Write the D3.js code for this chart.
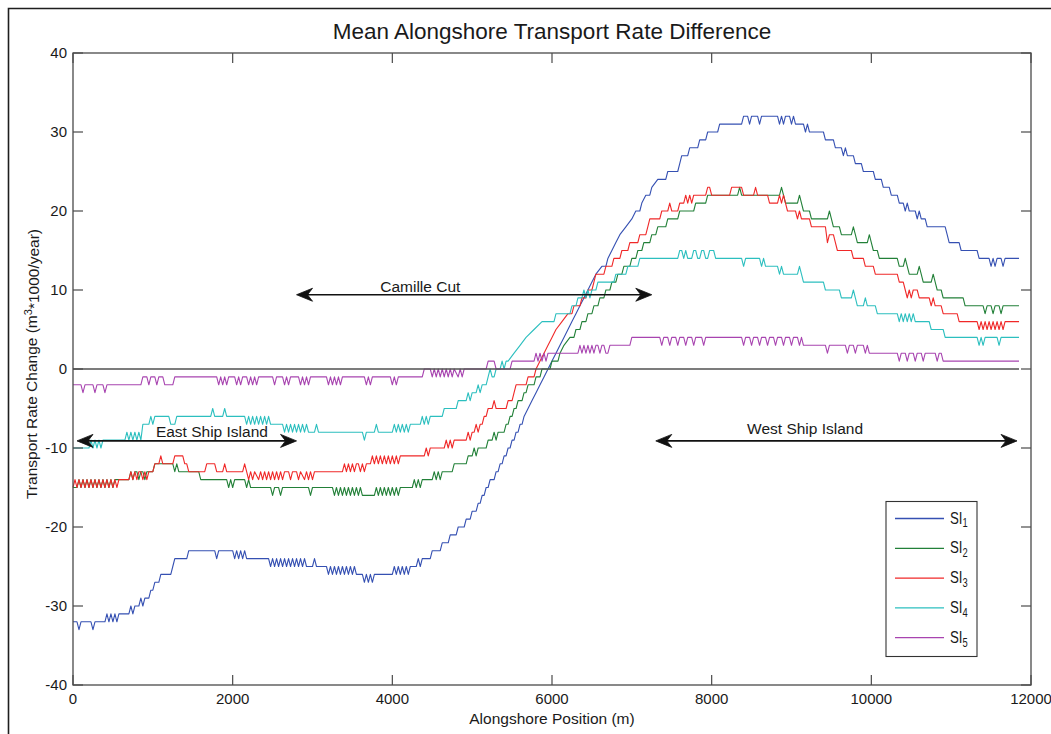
<!DOCTYPE html>
<html>
<head>
<meta charset="utf-8">
<script src="https://cdn.jsdelivr.net/npm/d3@7"></script>
<style>
  body { margin: 0; background: #fff; }
  svg { display: block; }
  text { font-family: Arial, "Liberation Sans", Helvetica, sans-serif; fill: #1a1a1a; }
</style>
</head>
<body>
<svg id="chart" width="1051" height="734"></svg>
<script>
// Axis ticks
const xTicks = [0, 2000, 4000, 6000, 8000, 10000, 12000];
const yTicks = [-40, -30, -20, -10, 0, 10, 20, 30, 40];

// Mean alongshore transport rate difference, [position (m), rate (m^3*1000/year)]
const si1 = [[0,-32],[50,-32],[75,-33],[100,-32],[225,-32],[250,-33],[275,-32],[400,-32],
  [425,-31],[450,-32],[475,-31],[500,-32],[525,-31],[550,-32],[575,-31],[700,-31],[725,-30],[750,-31],[775,-30],[825,-30],
  [850,-29],[875,-30],[900,-29],[950,-29],[975,-28],[1000,-28],[1025,-27],[1075,-27],[1100,-26],[1225,-26],[1250,-25],
  [1275,-24],[1425,-24],[1450,-23],[1775,-23],[1800,-24],[1825,-23],[2000,-23],[2025,-24],[2050,-23],[2075,-24],[2100,-23],
  [2125,-24],[2150,-23],[2175,-24],[2450,-24],[2475,-25],[2500,-24],[2525,-25],[2550,-24],[2575,-25],[2600,-24],[2625,-25],
  [2650,-24],[2675,-25],[2700,-24],[2725,-25],[2750,-24],[2775,-25],[2800,-24],[2825,-25],[2850,-24],[2875,-25],[2900,-24],
  [2925,-25],[3000,-25],[3025,-24],[3050,-25],[3175,-25],[3200,-26],[3225,-25],[3250,-26],[3275,-25],[3300,-26],[3325,-25],
  [3350,-26],[3375,-25],[3400,-26],[3425,-25],[3450,-26],[3475,-25],[3500,-26],[3525,-25],[3550,-26],[3625,-26],[3650,-27],
  [3675,-26],[3700,-27],[3725,-26],[3750,-27],[3775,-26],[4000,-26],[4025,-25],[4050,-26],[4075,-25],[4100,-26],[4125,-25],
  [4150,-26],[4175,-25],[4200,-26],[4225,-25],[4300,-25],[4325,-24],[4350,-25],[4375,-24],[4475,-24],[4500,-23],[4600,-23],
  [4625,-22],[4700,-22],[4725,-21],[4800,-21],[4825,-20],[4900,-20],[4925,-19],[4975,-19],[5000,-18],[5050,-18],[5075,-17],
  [5100,-17],[5125,-16],[5150,-16],[5175,-15],[5200,-15],[5225,-14],[5275,-14],[5300,-13],[5325,-13],[5350,-12],[5375,-12],
  [5400,-11],[5425,-11],[5450,-10],[5475,-10],[5500,-9],[5525,-9],[5550,-8],[5575,-8],[5600,-7],[5625,-7],[5650,-6],
  [5700,-5],[5750,-4],[5800,-3],[5850,-2],[5900,-1],[5950,0],[6000,1],[6050,2],[6100,3],[6150,4],[6200,5],[6250,6],
  [6300,7],[6350,8],[6400,9],[6450,10],[6500,11],[6550,12],[6625,13],[6675,13],[6700,14],[6750,15],[6800,16],[6850,17],
  [6925,18],[7000,19],[7050,20],[7100,20],[7125,21],[7175,22],[7225,22],[7250,23],[7325,24],[7425,24],[7450,25],[7575,25],
  [7600,26],[7625,27],[7700,27],[7725,28],[7825,28],[7850,29],[7925,29],[7950,30],[8075,30],[8100,31],[8375,31],[8400,32],
  [8450,32],[8475,31],[8500,32],[8575,32],[8600,31],[8625,32],[8825,32],[8850,31],[8875,32],[8900,31],[8925,32],[8975,32],
  [9000,31],[9025,32],[9050,31],[9150,31],[9175,30],[9200,31],[9225,30],[9400,30],[9425,29],[9525,29],[9550,28],[9625,28],
  [9650,27],[9675,28],[9700,27],[9775,27],[9800,26],[9875,26],[9900,25],[10025,25],[10050,24],[10125,24],[10150,23],
  [10225,23],[10250,22],[10325,22],[10350,21],[10400,21],[10425,20],[10450,21],[10475,20],[10550,20],[10575,19],[10600,20],
  [10625,19],[10675,19],[10700,18],[10925,18],[10950,17],[10975,16],[11100,16],[11125,15],[11325,15],[11350,14],[11475,14],
  [11500,13],[11525,14],[11550,13],[11575,14],[11625,14],[11650,13],[11675,14],[11850,14]];

const si2 = [[0,-15],[50,-15],[75,-14],[100,-15],[125,-14],[150,-15],[175,-14],[200,-15],[225,-14],[250,-15],[275,-14],
  [300,-15],[325,-14],[350,-15],[375,-14],[400,-15],[425,-14],[450,-15],[475,-14],[500,-15],[525,-14],[700,-14],[725,-13],
  [750,-14],[775,-13],[800,-13],[825,-14],[850,-13],[875,-13],[900,-14],[925,-13],[1000,-13],[1025,-12],[1250,-12],
  [1275,-13],[1300,-12],[1325,-13],[1575,-13],[1600,-14],[1925,-14],[1950,-15],[1975,-14],[2000,-15],[2025,-14],[2150,-14],
  [2175,-15],[2200,-14],[2225,-15],[2475,-15],[2500,-16],[2525,-15],[2575,-15],[2600,-16],[2625,-15],[2950,-15],[2975,-16],
  [3000,-15],[3250,-15],[3275,-16],[3300,-15],[3325,-16],[3350,-15],[3375,-16],[3400,-15],[3425,-16],[3450,-15],[3475,-16],
  [3500,-15],[3525,-16],[3550,-15],[3575,-16],[3600,-15],[3625,-16],[3775,-16],[3800,-15],[3825,-16],[3850,-15],[3875,-16],
  [3900,-15],[3925,-16],[3950,-15],[3975,-16],[4000,-15],[4025,-16],[4050,-15],[4075,-16],[4100,-15],[4250,-15],[4275,-14],
  [4300,-15],[4325,-14],[4350,-15],[4375,-14],[4500,-14],[4525,-13],[4550,-14],[4575,-13],[4600,-14],[4625,-13],[4750,-13],
  [4775,-12],[4925,-12],[4950,-11],[5000,-11],[5025,-10],[5050,-11],[5075,-10],[5175,-10],[5200,-9],[5250,-9],[5275,-8],
  [5300,-9],[5325,-8],[5400,-8],[5425,-7],[5450,-7],[5475,-6],[5500,-6],[5525,-5],[5550,-5],[5575,-4],[5625,-4],[5650,-3],
  [5675,-3],[5700,-2],[5775,-2],[5800,-1],[5850,-1],[5875,0],[5975,0],[6000,1],[6075,1],[6100,2],[6150,3],[6225,4],
  [6275,4],[6300,5],[6350,5],[6375,6],[6425,6],[6450,7],[6500,7],[6525,8],[6575,8],[6600,9],[6650,9],[6675,10],[6725,10],
  [6750,11],[6800,11],[6825,12],[6875,12],[6900,13],[6975,13],[7000,14],[7050,14],[7075,15],[7125,15],[7150,16],[7225,16],
  [7250,17],[7300,17],[7325,18],[7425,18],[7450,19],[7575,19],[7600,20],[7775,20],[7800,21],[7925,21],[7950,22],[8325,22],
  [8350,23],[8375,22],[8850,22],[8875,23],[8900,22],[8925,21],[9075,21],[9100,22],[9125,21],[9150,20],[9225,20],[9250,19],
  [9450,19],[9475,20],[9500,19],[9525,18],[9600,18],[9625,17],[9750,17],[9775,18],[9800,17],[9825,16],[9950,16],[9975,17],
  [10000,16],[10025,15],[10075,15],[10100,14],[10325,14],[10350,13],[10400,13],[10425,14],[10450,13],[10475,12],[10575,12],
  [10600,13],[10625,12],[10650,11],[10750,11],[10775,12],[10800,11],[10825,10],[10875,10],[10900,9],[11150,9],[11175,8],
  [11400,8],[11425,7],[11450,8],[11500,8],[11525,7],[11550,8],[11600,8],[11625,7],[11650,8],[11850,8]];

const si3 = [[0,-15],[25,-14],[50,-15],[75,-14],[100,-15],[125,-14],[150,-15],[175,-14],[200,-15],[225,-14],[250,-15],
  [275,-14],[300,-15],[325,-14],[350,-15],[375,-14],[400,-15],[425,-14],[450,-15],[475,-14],[500,-15],[525,-14],[550,-15],
  [575,-14],[700,-14],[725,-13],[750,-14],[775,-13],[800,-14],[825,-13],[850,-13],[875,-14],[900,-13],[925,-14],[950,-13],
  [1000,-13],[1025,-12],[1075,-12],[1100,-11],[1125,-12],[1250,-12],[1275,-11],[1375,-11],[1400,-12],[1425,-12],[1450,-13],
  [1650,-13],[1675,-12],[1775,-12],[1800,-13],[1875,-13],[1900,-12],[1925,-13],[2125,-13],[2150,-12],[2175,-13],[2200,-14],
  [2225,-13],[2250,-14],[2275,-13],[2325,-14],[2350,-13],[2375,-14],[2400,-13],[2425,-14],[2450,-13],[2475,-14],[2500,-13],
  [2525,-14],[2550,-13],[2575,-14],[2600,-13],[2625,-14],[2650,-13],[2700,-13],[2725,-14],[2750,-13],[2800,-13],[2825,-14],
  [2850,-13],[2900,-14],[2925,-13],[2950,-14],[2975,-13],[3000,-14],[3025,-13],[3375,-13],[3400,-12],[3425,-13],[3450,-12],
  [3475,-13],[3500,-12],[3525,-13],[3550,-12],[3575,-12],[3600,-13],[3625,-12],[3650,-13],[3675,-12],[3725,-12],[3750,-11],
  [3775,-12],[3800,-11],[3825,-12],[3850,-11],[3875,-12],[3900,-11],[3925,-12],[3950,-11],[3975,-12],[4000,-11],[4025,-12],
  [4050,-11],[4075,-12],[4100,-11],[4400,-11],[4425,-10],[4450,-11],[4475,-10],[4650,-10],[4675,-9],[4700,-10],[4725,-9],
  [4750,-10],[4775,-9],[4925,-9],[4950,-8],[4975,-9],[5000,-8],[5025,-8],[5050,-7],[5075,-8],[5100,-7],[5125,-7],[5150,-6],
  [5175,-6],[5200,-5],[5250,-5],[5275,-4],[5300,-5],[5425,-5],[5450,-4],[5500,-4],[5525,-3],[5550,-2],[5675,-2],[5700,-1],
  [5775,-1],[5800,0],[5850,1],[5900,2],[5950,3],[6000,4],[6050,5],[6125,6],[6200,7],[6250,7],[6275,8],[6350,8],[6375,9],
  [6425,9],[6450,10],[6500,10],[6525,11],[6550,12],[6650,12],[6675,13],[6750,13],[6775,14],[6850,14],[6875,15],[6950,15],
  [6975,16],[7075,16],[7100,17],[7175,17],[7200,18],[7225,19],[7350,19],[7375,20],[7450,20],[7475,21],[7500,20],[7575,20],
  [7600,21],[7650,21],[7675,22],[7700,21],[7725,22],[7750,21],[7775,22],[7925,22],[7950,23],[7975,23],[8000,22],[8225,22],
  [8250,23],[8375,23],[8400,22],[8525,22],[8550,23],[8575,22],[8700,22],[8725,21],[8825,21],[8850,22],[8875,21],[8900,22],
  [8925,21],[8950,20],[9050,20],[9075,19],[9100,20],[9125,19],[9225,19],[9250,18],[9425,18],[9450,16],[9475,17],[9525,17],
  [9550,16],[9575,15],[9750,15],[9775,14],[9900,14],[9925,13],[10025,13],[10050,12],[10325,12],[10350,11],[10400,11],
  [10425,10],[10450,9],[10475,10],[10500,9],[10525,10],[10575,10],[10600,9],[10725,9],[10750,8],[10775,9],[10800,8],
  [10875,8],[10900,7],[11075,7],[11100,6],[11325,6],[11350,5],[11375,6],[11400,5],[11425,6],[11450,5],[11475,6],[11500,5],
  [11525,6],[11550,5],[11575,6],[11600,5],[11625,6],[11650,5],[11675,6],[11850,6]];

const si4 = [[0,-10],[200,-10],[225,-9],[250,-10],[275,-9],[300,-10],[325,-9],[350,-10],[375,-9],[650,-9],[675,-8],[700,-9],
  [725,-8],[750,-9],[775,-8],[800,-9],[825,-8],[850,-9],[875,-7],[950,-7],[975,-6],[1000,-7],[1025,-6],[1200,-6],[1225,-7],
  [1275,-7],[1300,-6],[1725,-6],[1750,-5],[1775,-6],[1875,-6],[1900,-5],[1925,-6],[2150,-6],[2175,-7],[2200,-6],[2225,-7],
  [2250,-6],[2275,-7],[2300,-6],[2325,-7],[2350,-6],[2375,-7],[2400,-6],[2425,-7],[2450,-6],[2475,-7],[2625,-7],[2650,-8],
  [2675,-7],[2700,-8],[2725,-7],[2750,-8],[2775,-7],[2800,-8],[2825,-7],[2850,-8],[2875,-7],[2900,-8],[2925,-7],[2950,-8],
  [3025,-8],[3050,-7],[3075,-8],[3625,-8],[3650,-9],[3675,-8],[3775,-8],[3800,-7],[3825,-8],[4000,-8],[4025,-7],[4050,-8],
  [4075,-7],[4100,-8],[4125,-7],[4150,-8],[4175,-7],[4200,-8],[4225,-7],[4350,-7],[4375,-6],[4400,-7],[4425,-6],[4450,-7],
  [4475,-6],[4625,-6],[4650,-5],[4800,-5],[4825,-4],[4925,-4],[4950,-3],[4975,-4],[5000,-3],[5050,-3],[5075,-2],[5100,-3],
  [5125,-2],[5175,-2],[5200,-1],[5225,0],[5250,-1],[5275,-1],[5300,0],[5350,0],[5375,1],[5400,0],[5425,1],[5450,1],
  [5525,2],[5600,3],[5675,4],[5775,5],[5875,6],[6025,6],[6050,7],[6225,7],[6250,8],[6300,8],[6325,9],[6375,9],[6400,10],
  [6425,9],[6450,10],[6475,9],[6500,10],[6550,10],[6575,11],[6775,11],[6800,12],[6925,12],[6950,13],[7075,13],[7100,14],
  [7575,14],[7600,15],[7625,15],[7650,14],[7675,15],[7700,14],[7750,14],[7775,15],[7800,15],[7825,14],[7850,14],[7875,15],
  [7900,15],[7925,14],[7950,14],[7975,15],[8025,15],[8050,14],[8375,14],[8400,13],[8425,14],[8600,14],[8625,13],[8650,14],
  [8675,13],[8825,13],[8850,12],[8875,13],[8900,12],[9075,12],[9100,13],[9125,12],[9150,11],[9400,11],[9425,10],[9600,10],
  [9625,9],[9750,9],[9775,10],[9800,9],[9825,8],[9900,8],[9925,9],[9950,8],[10050,8],[10075,7],[10325,7],[10350,6],
  [10375,7],[10400,6],[10425,7],[10450,6],[10475,7],[10500,6],[10525,7],[10550,6],[10725,6],[10750,5],[10900,5],[10925,4],
  [11325,4],[11350,3],[11375,4],[11400,3],[11425,4],[11575,4],[11600,3],[11625,4],[11850,4]];

const si5 = [[0,-2],[100,-2],[125,-3],[150,-2],[250,-2],[275,-3],[300,-2],[375,-2],[400,-3],[425,-2],[850,-2],[875,-1],
  [925,-1],[950,-2],[975,-1],[1025,-1],[1050,-2],[1075,-1],[1125,-1],[1150,-2],[1250,-2],[1275,-1],[1800,-1],[1825,-2],
  [1850,-1],[1875,-2],[1900,-1],[1925,-2],[1950,-1],[2025,-1],[2050,-2],[2075,-1],[2100,-2],[2125,-1],[2175,-1],[2200,-2],
  [2225,-1],[2250,-2],[2275,-1],[2300,-2],[2325,-1],[2500,-1],[2525,-2],[2550,-1],[2625,-1],[2650,-2],[2675,-1],[2700,-2],
  [2725,-1],[2825,-1],[2850,-2],[2875,-1],[2900,-2],[2925,-1],[2950,-2],[2975,-1],[3175,-1],[3200,-2],[3225,-1],[3250,-2],
  [3275,-1],[3300,-2],[3325,-1],[3350,-2],[3375,-1],[3650,-1],[3675,-2],[3700,-1],[3725,-2],[3750,-1],[3975,-1],[4000,-2],
  [4025,-1],[4050,-2],[4075,-1],[4375,-1],[4400,0],[4475,0],[4500,-1],[4525,0],[4550,-1],[4575,0],[4600,-1],[4625,0],
  [4650,-1],[4675,0],[4700,-1],[4725,0],[4750,-1],[4775,0],[4825,-1],[4850,0],[4875,-1],[4900,0],[5175,0],[5200,1],
  [5275,1],[5300,0],[5475,0],[5500,1],[5775,1],[5800,2],[5825,1],[5850,2],[5875,1],[5900,2],[5925,1],[5950,2],[6325,2],
  [6350,3],[6375,2],[6400,3],[6425,2],[6450,3],[6475,2],[6500,3],[6525,2],[6550,3],[6575,3],[6600,2],[6625,3],[6650,3],
  [6675,2],[6700,2],[6725,3],[6975,3],[7000,4],[7350,4],[7375,3],[7400,4],[7450,4],[7475,3],[7500,4],[7550,4],[7575,3],
  [7600,4],[7650,4],[7675,3],[7700,4],[7750,4],[7775,3],[7800,4],[7875,4],[7900,3],[7925,4],[8375,4],[8400,3],[8425,4],
  [8475,4],[8500,3],[8525,4],[8575,4],[8600,3],[8625,4],[8675,4],[8700,3],[8725,4],[8775,4],[8800,3],[8825,4],[8875,4],
  [8900,3],[8925,4],[8975,4],[9000,3],[9025,4],[9075,4],[9100,3],[9125,4],[9150,3],[9425,3],[9450,2],[9475,3],[9675,3],
  [9700,2],[9725,3],[9775,3],[9800,2],[9825,3],[9900,3],[9925,2],[9950,3],[9975,2],[10325,2],[10350,1],[10375,2],[10425,2],
  [10450,1],[10475,2],[10525,2],[10550,1],[10575,2],[10625,2],[10650,1],[10675,2],[10800,2],[10825,1],[10850,2],[10875,2],
  [10900,1],[11850,1]];

const seriesData = [si1, si2, si3, si4, si5];
const seriesSubscripts = ["1", "2", "3", "4", "5"];
const seriesColors = ["#3550b2", "#228038", "#f02828", "#2cbfbf", "#a844b0"];

// Reach annotations: arrow extent (m), arrow level, label centre (m) and label level
const reachNames = ["Camille Cut", "East Ship Island", "West Ship Island"];
const reachFrom = [2800, 50, 7300];
const reachTo = [7250, 2800, 11825];
const reachLevel = [9.4, -9.1, -9.1];
const reachLabelAt = [4350, 1740, 9170];
const reachLabelLevel = [9.8, -8.6, -8.2];

const svg = d3.select("#chart");
const W = 1051, H = 734;
svg.append("rect").attr("width", W).attr("height", H).attr("fill", "#fff");

// outer figure frame
svg.append("path").attr("d", `M8.5,${H} V8.5 H${W}`)
  .attr("fill", "none").attr("stroke", "#1e1e1e").attr("stroke-width", 1.6);

const x = d3.scaleLinear().domain([0, 12000]).range([73, 1031]);
const y = d3.scaleLinear().domain([-40, 40]).range([685, 53]);
const [x0, x1] = x.range();
const [yb, yt] = y.range();
const tickLen = 10;

const plot = svg.append("g");

// series
const line = d3.line().x(d => x(d[0])).y(d => y(d[1]));
seriesData.forEach((s, i) => {
  plot.append("path").datum(s)
    .attr("fill", "none")
    .attr("stroke", seriesColors[i])
    .attr("stroke-width", 1.1)
    .attr("stroke-linejoin", "round")
    .attr("d", line);
});

// zero reference line spanning the data extent
plot.append("line")
  .attr("x1", x(0)).attr("x2", x(d3.max(si1, d => d[0])))
  .attr("y1", y(0)).attr("y2", y(0))
  .attr("stroke", "#505050").attr("stroke-width", 1.4);

// axes box with inward ticks on all four sides
const axisCol = "#4a4a4a";
const axes = svg.append("g");
axes.append("rect").attr("x", x0).attr("y", yt).attr("width", x1 - x0).attr("height", yb - yt)
  .attr("fill", "none").attr("stroke", axisCol).attr("stroke-width", 1.3);

xTicks.forEach(t => {
  const px = x(t);
  axes.append("line").attr("x1", px).attr("x2", px).attr("y1", yb).attr("y2", yb - tickLen)
    .attr("stroke", axisCol).attr("stroke-width", 1.2);
  axes.append("line").attr("x1", px).attr("x2", px).attr("y1", yt).attr("y2", yt + tickLen)
    .attr("stroke", axisCol).attr("stroke-width", 1.2);
  axes.append("text").attr("x", px).attr("y", 704).attr("text-anchor", "middle")
    .style("font-size", "15px").text(t);
});

yTicks.forEach(t => {
  const py = y(t);
  axes.append("line").attr("x1", x0).attr("x2", x0 + tickLen).attr("y1", py).attr("y2", py)
    .attr("stroke", axisCol).attr("stroke-width", 1.2);
  axes.append("line").attr("x1", x1).attr("x2", x1 - tickLen).attr("y1", py).attr("y2", py)
    .attr("stroke", axisCol).attr("stroke-width", 1.2);
  axes.append("text").attr("x", 67).attr("y", py).attr("dy", "0.36em").attr("text-anchor", "end")
    .style("font-size", "15px").text(t);
});

// title and axis labels
svg.append("text").attr("x", (x0 + x1) / 2).attr("y", 39).attr("text-anchor", "middle")
  .style("font-size", "22.5px").text("Mean Alongshore Transport Rate Difference");

svg.append("text").attr("x", (x0 + x1) / 2).attr("y", 724).attr("text-anchor", "middle")
  .style("font-size", "15.5px").text("Alongshore Position (m)");

const yl = svg.append("text").attr("transform", "translate(37,364) rotate(-90)")
  .attr("text-anchor", "middle").style("font-size", "15.5px");
yl.append("tspan").text("Transport Rate Change (m");
yl.append("tspan").attr("dy", "-0.45em").style("font-size", "11px").text("3");
yl.append("tspan").attr("dy", "0.45em").text("*1000/year)");

// double-headed reach arrows
function arrowHead(g, tipX, tipY, dir) {
  const L = 16, Wd = 6.5, N = 11;
  g.append("path")
    .attr("d", `M${tipX},${tipY} L${tipX - dir * L},${tipY - Wd} L${tipX - dir * N},${tipY} L${tipX - dir * L},${tipY + Wd} Z`)
    .attr("fill", "#111").attr("stroke", "#111").attr("stroke-width", 0.8).attr("stroke-linejoin", "miter");
}
const notes = svg.append("g");
reachNames.forEach((name, i) => {
  const xa = x(reachFrom[i]), xb = x(reachTo[i]), py = y(reachLevel[i]);
  notes.append("line").attr("x1", xa + 4).attr("x2", xb - 4).attr("y1", py).attr("y2", py)
    .attr("stroke", "#111").attr("stroke-width", 1.6);
  arrowHead(notes, xa, py, -1);
  arrowHead(notes, xb, py, 1);
  notes.append("text").attr("x", x(reachLabelAt[i])).attr("y", y(reachLabelLevel[i]))
    .attr("text-anchor", "middle").style("font-size", "15.5px").text(name);
});

// legend
const lg = svg.append("g");
const lgX = 886, lgY = 501.5, lgW = 91, lgH = 155, rowGap = 29.8, firstRow = 17;
lg.append("rect").attr("x", lgX).attr("y", lgY).attr("width", lgW).attr("height", lgH)
  .attr("fill", "#fff").attr("stroke", "#333").attr("stroke-width", 1.1);
seriesSubscripts.forEach((sub, i) => {
  const ry = lgY + firstRow + i * rowGap;
  lg.append("line").attr("x1", lgX + 9).attr("x2", lgX + 58).attr("y1", ry).attr("y2", ry)
    .attr("stroke", seriesColors[i]).attr("stroke-width", 1.3);
  const t = lg.append("text").attr("transform", `translate(${lgX + 64},${ry + 5}) scale(0.78,1)`)
    .style("font-size", "17px");
  t.append("tspan").text("SI");
  t.append("tspan").attr("dy", "0.32em").style("font-size", "12px").text(sub);
});
</script>
</body>
</html>
